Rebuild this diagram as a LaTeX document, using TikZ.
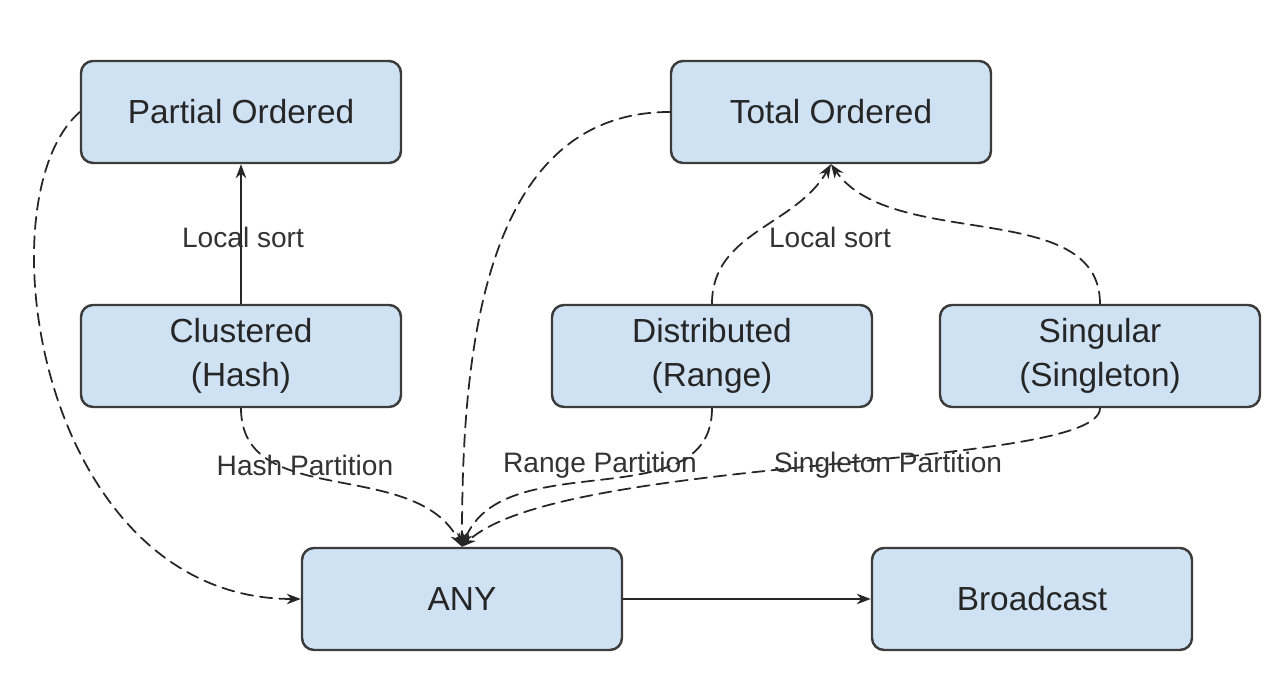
\documentclass[tikz,border=0pt]{standalone}
\usepackage{fontspec}
\setmainfont{Liberation Sans}
\usepackage{tikz}
\usetikzlibrary{arrows,arrows.meta}
\definecolor{boxblue}{RGB}{207,226,243}
\definecolor{boxline}{RGB}{60,60,60}

\begin{document}
\begin{tikzpicture}[line cap=round,line join=round,>={Stealth[length=4pt,width=3pt]},x=1.0cm,y=1.0cm,
    box/.style={draw=boxline,line width=0.7pt,fill=boxblue,rounded corners=0.12cm,minimum width=3.2cm,minimum height=1.02cm,align=center,font=\fontsize{9.5}{12.5}\selectfont,text=black!85},
    lbl/.style={font=\fontsize{8}{9.5}\selectfont,text=black!80,inner sep=0pt},
    edge/.style={->,line width=0.5pt,black!85},
    dedge/.style={edge,dash pattern=on 3.5pt off 2pt}]
        \useasboundingbox (0,0) rectangle (12.86,6.79);
        \node[box] (po) at (2.41,5.67) {Partial Ordered};
        \node[box] (to) at (8.31,5.67) {Total Ordered};
        \node[box] (cl) at (2.41,3.23) {Clustered\\(Hash)};
        \node[box] (di) at (7.12,3.23) {Distributed\\(Range)};
        \node[box] (si) at (11.00,3.23) {Singular\\(Singleton)};
        \node[box] (any) at (4.62,0.80) {ANY};
        \node[box] (bc) at (10.32,0.80) {Broadcast};
        % connectors
        \draw[edge] (cl.north) -- (po.south);
        \draw[edge] (any.east) -- (bc.west);
        \draw[dedge] (di.north) to[out=90,in=-120] (to.south);
        \draw[dedge] (si.north) to[out=90,in=-55,looseness=0.9] (to.south);
        \draw[dedge] (cl.south) to[out=-90,in=118] (any.north);
        \draw[dedge] (di.south) to[out=-90,in=68] (any.north);
        \draw[dedge] (si.south) .. controls (11.00,2.09) and (5.60,2.24) .. (any.north);
        \draw[dedge] (to.west) to[out=180,in=90] (any.north);
        \draw[dedge] (po.west) .. controls (-0.2,4.8) and (0.4,0.8) .. (any.west);
        \node[lbl] (ls1) at (2.43,4.42) {Local sort};
        \node[lbl] (ls2) at (8.30,4.42) {Local sort};
        \node[lbl] (hp) at (3.05,2.14) {Hash Partition};
        \node[lbl] (rp) at (6.00,2.14) {Range Partition};
        \node[lbl] (sp) at (8.88,2.14) {Singleton Partition};
      \end{tikzpicture}
\end{document}
